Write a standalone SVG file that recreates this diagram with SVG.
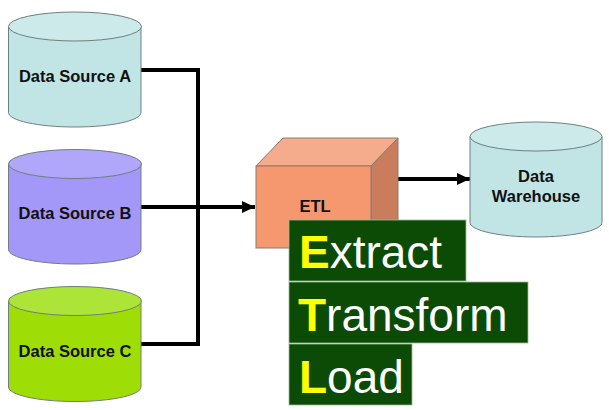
<svg xmlns="http://www.w3.org/2000/svg" width="609" height="410" viewBox="0 0 609 410">
<style>
text{font-family:"Liberation Sans",Arial,sans-serif}
.lbl{font-size:16.500px;font-weight:bold;fill:#111;text-anchor:middle}
.big{font-size:46px;fill:#fff}
.big tspan{fill:#ff0;font-weight:bold}
.bar{fill:#0b4b05;stroke:#9fb89a;stroke-width:.8}
.cyl{stroke:#6f7f7f;stroke-width:1}
.wire{fill:none;stroke:#000;stroke-width:4}
</style>
<defs>
<marker id="ah" markerUnits="userSpaceOnUse" markerWidth="14" markerHeight="14" refX="13" refY="7" orient="auto"><path d="M0 1L13 7L0 13Z" fill="#000"/></marker>
</defs>
<rect width="609" height="410" fill="#fff"/>
<g id="connectors">
<path class="wire" d="M141 70H198V344H141"/>
<path class="wire" d="M141 207H255" marker-end="url(#ah)"/>
<path class="wire" d="M398 179H470" marker-end="url(#ah)"/>
</g>
<g id="source-a">
<path class="cyl" fill="#c1e5e5" d="M8.500 26.500V112.500C8.500 120.500 38 127 75 127S141 120.500 141 112.500V26.500Z"/>
<ellipse class="cyl" fill="#cdeaea" cx="75" cy="26.500" rx="66.500" ry="14.500"/>
<text class="lbl" x="75" y="82">Data Source A</text>
</g>
<g id="source-b">
<path class="cyl" fill="#a397f7" d="M8.500 164V249.500C8.500 257.500 38 264 75 264S141 257.500 141 249.500V164Z"/>
<ellipse class="cyl" fill="#b1a7fa" cx="75" cy="164" rx="66.500" ry="14.500"/>
<text class="lbl" x="75" y="219">Data Source B</text>
</g>
<g id="source-c">
<path class="cyl" fill="#9edd05" d="M8.500 301V387C8.500 395 38 401.500 75 401.500S141 395 141 387V301Z"/>
<ellipse class="cyl" fill="#ace437" cx="75" cy="301" rx="66.500" ry="14.500"/>
<text class="lbl" x="75" y="357">Data Source C</text>
</g>
<g id="etl">
<path d="M256 166L283 138H398L371 166Z" fill="#f5ac8c" stroke="#8a7a70"/>
<path d="M371 166L398 138V221L371 248Z" fill="#c97d5c" stroke="#8a7a70"/>
<rect x="256" y="166" width="115" height="82" fill="#f6986f" stroke="#8a7a70"/>
<text class="lbl" x="315" y="212">ETL</text>
</g>
<g id="warehouse">
<path class="cyl" fill="#c1e5e5" d="M470 136.500V222.500C470 230.500 499.500 237 536 237S602 230.500 602 222.500V136.500Z"/>
<ellipse class="cyl" fill="#cdeaea" cx="536" cy="136.500" rx="66" ry="14.500"/>
<text class="lbl" x="536" y="182">Data</text>
<text class="lbl" x="536" y="202">Warehouse</text>
</g>
<g id="extract">
<rect class="bar" x="289" y="220" width="177" height="61"/>
<text class="big" x="299" y="268"><tspan>E</tspan>xtract</text>
</g>
<g id="transform">
<rect class="bar" x="289" y="282" width="239" height="61"/>
<text class="big" x="298" y="331"><tspan>T</tspan>ransform</text>
</g>
<g id="load">
<rect class="bar" x="289" y="344" width="123" height="61"/>
<text class="big" x="299" y="393"><tspan>L</tspan>oad</text>
</g>
</svg>
